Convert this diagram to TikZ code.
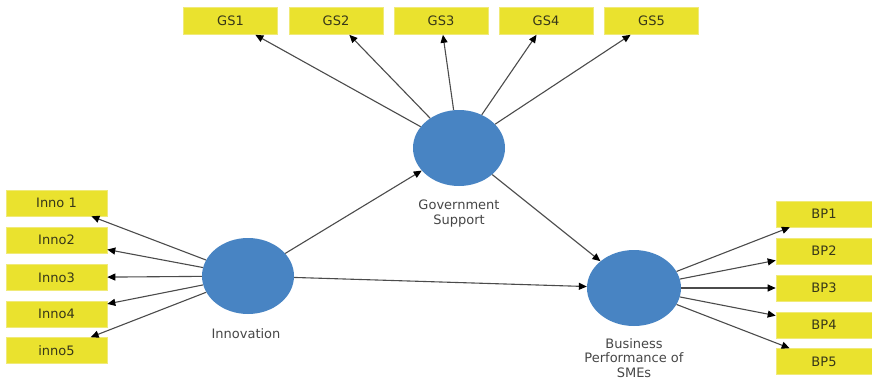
\documentclass[tikz,border=0pt]{standalone}
\usepackage{fontspec}
\setmainfont{DejaVu Sans}
\usetikzlibrary{arrows.meta,shapes.geometric}
\definecolor{boxyellow}{RGB}{234,226,46}
\definecolor{boxedge}{RGB}{240,234,120}
\definecolor{boxtext}{RGB}{55,55,25}
\definecolor{latentblue}{RGB}{72,132,195}
\definecolor{labelgray}{RGB}{70,70,70}
\definecolor{pathgray}{RGB}{75,75,75}
\tikzset{
  indicator/.style={rectangle, fill=boxyellow, draw=boxedge, line width=0.6pt,
    text=boxtext, font=\fontsize{13}{15}\selectfont, inner sep=0pt},
  latent/.style={ellipse, fill=latentblue, inner sep=0pt},
  caption/.style={text=labelgray, font=\fontsize{13}{15}\selectfont, align=center},
  link/.style={draw=pathgray, line width=1.1pt, -{Triangle[length=8pt,width=7pt,black]}}
}
\begin{document}
\begin{tikzpicture}[x=1pt,y=-1pt]
\useasboundingbox (0,0) rectangle (872,381);

% latent constructs
\node[latent, minimum width=92pt, minimum height=76pt] (gov) at (459,148) {};
\node[latent, minimum width=92pt, minimum height=76pt] (inno) at (248,276) {};
\node[latent, minimum width=94pt, minimum height=76pt] (bp) at (634,288) {};

\node[caption] (govlbl) at (459,214) {Government\\Support};
\node[caption, font=\fontsize{13}{14.5}\selectfont] (bplbl) at (634,358) {Business\\Performance of\\SMEs};
\node[caption] (innolbl) at (246,334) {Innovation};

% government support indicators
\foreach \i/\x in {1/230.5,2/336,3/441,4/546,5/651.5}
  \node[indicator, minimum width=94pt, minimum height=27pt] (gs\i) at (\x,21) {GS\i};

% innovation indicators
\node[indicator, minimum width=101pt, minimum height=26pt] (in1) at (56.5,203) {Inno 1};
\node[indicator, minimum width=101pt, minimum height=26pt] (in2) at (56.5,240) {Inno2};
\node[indicator, minimum width=101pt, minimum height=26pt] (in3) at (56.5,277.5) {Inno3};
\node[indicator, minimum width=101pt, minimum height=26pt] (in4) at (56.5,314) {Inno4};
\node[indicator, minimum width=101pt, minimum height=26pt] (in5) at (56.5,350.5) {inno5};

% business performance indicators
\foreach \i/\y in {1/214,2/251,3/288,4/325,5/361.5}
  \node[indicator, minimum width=96pt, minimum height=26pt] (bp\i) at (824,\y) {BP\i};

% outer model
\foreach \i in {1,...,5} {
  \draw[link] (gov) -- (gs\i);
  \draw[link] (inno) -- (in\i);
  \draw[link] (bp) -- (bp\i);
}

% structural paths
\draw[link] (inno) -- (gov);
\draw[link] (inno) -- (bp);
\draw[link] (gov) -- (bp);
\end{tikzpicture}
\end{document}
